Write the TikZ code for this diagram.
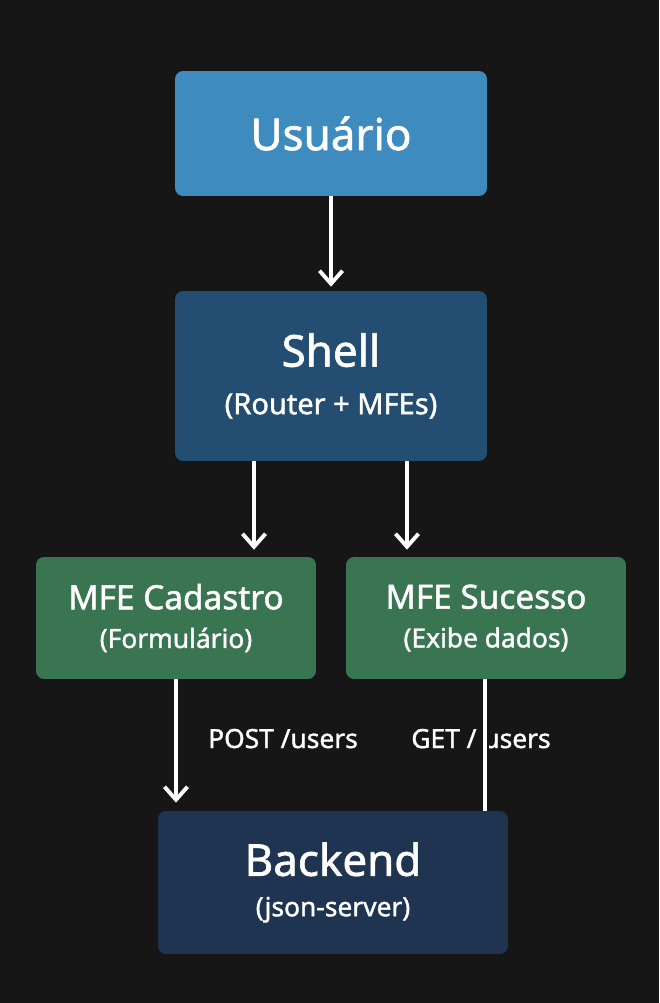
\documentclass[tikz,border=0pt]{standalone}
\usepackage{fontspec}
\setmainfont{Noto Sans}[FakeBold=1.4]
\usetikzlibrary{calc}
\usetikzlibrary{arrows.meta}
\definecolor{bgdark}{HTML}{161616}
\definecolor{userblue}{HTML}{3D8BBF}
\definecolor{shellblue}{HTML}{234E72}
\definecolor{mfegreen}{HTML}{3A7552}
\definecolor{backnavy}{HTML}{1F3450}
\newcommand{\boxtitle}{\fontsize{25}{30}\selectfont}
\newcommand{\mfetitle}{\fontsize{19}{23}\selectfont}
\newcommand{\boxsub}{\fontsize{15}{18}\selectfont}
\tikzset{
	>={Straight Barb[length=0.26cm,width=0.46cm]},
	bloco/.style={
		rectangle,
		rounded corners=0.16cm,
		draw=none,
		text=white,
		align=center,
		inner sep=0pt},
	seta/.style={draw=white, line width=2.2pt, ->},
	rotulo/.style={text=white, font=\boxsub, anchor=base},
}

\begin{document}
\begin{tikzpicture}[x=0.02cm, y=-0.02cm]
	\fill[bgdark] (0,0) rectangle (659,1003);
	\useasboundingbox (0,0) rectangle (659,1003);
	% caixas
	\node[bloco, fill=userblue, minimum width=6.24cm, minimum height=2.5cm] (usuario) at (331,133.5) {\boxtitle Usuário};
	\node[bloco, fill=shellblue, minimum width=6.24cm, minimum height=3.4cm] (shell) at (331,376) {{\boxtitle Shell}\\[14pt]{\fontsize{16.5}{20}\selectfont (Router + MFEs)}};
	\node[bloco, fill=mfegreen, minimum width=5.6cm, minimum height=2.44cm] (cadastro) at (176,618) {{\mfetitle MFE Cadastro}\\[10pt]{\boxsub (Formulário)}};
	\node[bloco, fill=mfegreen, minimum width=5.6cm, minimum height=2.44cm] (sucesso) at (486,618) {{\mfetitle MFE Sucesso}\\[10pt]{\boxsub (Exibe dados)}};
	\node[bloco, fill=backnavy, minimum width=7cm, minimum height=2.86cm] (backend) at (333,882.5) {{\boxtitle Backend}\\[11pt]{\boxsub (json-server)}};
	% rotulos
	\node[rotulo] (post) at (283,748) {POST /users};
	\node[rotulo] (get) at (481,748) {GET / users};
	% setas
	\coordinate (saidaA) at ($(shell.south)+(-77,0)$);
	\coordinate (saidaB) at ($(shell.south)+(76,0)$);
	\coordinate (saidaC) at ($(sucesso.south)+(-1,0)$);
	\draw[seta, shorten >=0.08cm] (usuario.south) -- (shell.north);
	\draw[seta, shorten >=0.14cm] (saidaA) -- (saidaA |- cadastro.north);
	\draw[seta, shorten >=0.14cm] (saidaB) -- (saidaB |- sucesso.north);
	\draw[seta, shorten >=0.16cm] (cadastro.south) -- (cadastro.south |- backend.north);
	\draw[draw=white, line width=2.2pt, preaction={draw=bgdark, line width=5pt}] (saidaC) -- (saidaC |- backend.north);
\end{tikzpicture}
\end{document}
